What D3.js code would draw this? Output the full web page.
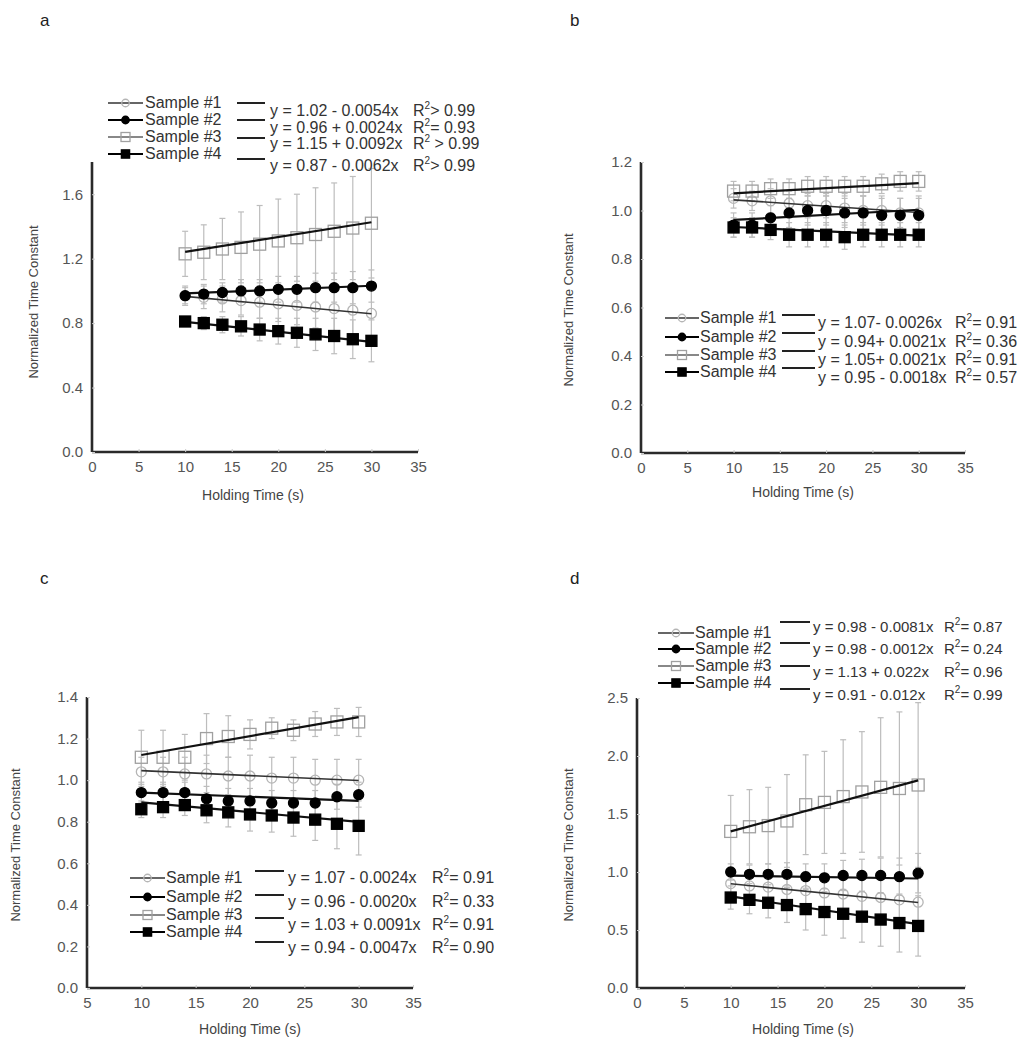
<!DOCTYPE html>
<html><head><meta charset="utf-8">
<script src="https://cdn.jsdelivr.net/npm/d3@7"></script>
<style>body{margin:0;background:#fff} text{font-family:"Liberation Sans",Arial,sans-serif}</style>
</head><body><svg id="c" width="1034" height="1050"></svg>
<script>
const holdingTime = [10,12,14,16,18,20,22,24,26,28,30];
const sampleNames = ["Sample #1","Sample #2","Sample #3","Sample #4"];

// Panel a
const aMean1 = [0.97,0.96,0.95,0.94,0.93,0.92,0.91,0.90,0.89,0.88,0.86];
const aSd1   = [0.06,0.07,0.08,0.09,0.10,0.11,0.12,0.13,0.14,0.15,0.16];
const aMean2 = [0.97,0.98,0.99,1.00,1.00,1.01,1.01,1.02,1.02,1.02,1.03];
const aSd2   = [0.05,0.06,0.06,0.07,0.07,0.08,0.08,0.09,0.09,0.10,0.10];
const aMean3 = [1.23,1.24,1.26,1.27,1.29,1.31,1.33,1.35,1.37,1.39,1.42];
const aSd3   = [0.14,0.17,0.19,0.22,0.24,0.26,0.27,0.29,0.30,0.32,0.34];
const aMean4 = [0.81,0.80,0.79,0.78,0.76,0.75,0.74,0.73,0.72,0.70,0.69];
const aSd4   = [0.03,0.04,0.05,0.06,0.07,0.08,0.09,0.10,0.11,0.12,0.13];
const aFitIntercept = [1.02,0.96,1.15,0.87];
const aFitSlope = [-0.0054,0.0024,0.0092,-0.0062];
const aEquation = ["y = 1.02 - 0.0054x","y = 0.96 + 0.0024x","y = 1.15 + 0.0092x","y = 0.87 - 0.0062x"];
const aR2 = ["> 0.99","= 0.93"," > 0.99","> 0.99"];
const aXTicks = [0,5,10,15,20,25,30,35];
const aYTicks = [0,0.4,0.8,1.2,1.6];

// Panel b
const bMean1 = [1.05,1.04,1.04,1.03,1.02,1.02,1.01,1.00,1.00,0.99,0.99];
const bSd1   = [0.04,0.04,0.05,0.05,0.05,0.05,0.06,0.06,0.06,0.06,0.07];
const bMean2 = [0.94,0.94,0.97,0.99,1.00,1.00,0.99,0.99,0.98,0.98,0.98];
const bSd2   = [0.05,0.05,0.05,0.06,0.06,0.06,0.06,0.07,0.07,0.07,0.07];
const bMean3 = [1.08,1.08,1.09,1.09,1.10,1.10,1.10,1.10,1.11,1.12,1.12];
const bSd3   = [0.04,0.04,0.04,0.04,0.04,0.04,0.04,0.04,0.04,0.04,0.04];
const bMean4 = [0.93,0.93,0.92,0.90,0.90,0.90,0.89,0.90,0.90,0.90,0.90];
const bSd4   = [0.04,0.04,0.04,0.05,0.05,0.05,0.05,0.05,0.05,0.05,0.05];
const bFitIntercept = [1.07,0.94,1.05,0.95];
const bFitSlope = [-0.0026,0.0021,0.0021,-0.0018];
const bEquation = ["y = 1.07- 0.0026x","y = 0.94+ 0.0021x","y = 1.05+ 0.0021x","y = 0.95 - 0.0018x"];
const bR2 = ["= 0.91","= 0.36","= 0.91","= 0.57"];
const bXTicks = [0,5,10,15,20,25,30,35];
const bYTicks = [0,0.2,0.4,0.6,0.8,1.0,1.2];

// Panel c
const cMean1 = [1.04,1.04,1.03,1.03,1.02,1.02,1.01,1.01,1.00,1.00,1.00];
const cSd1   = [0.07,0.07,0.08,0.09,0.09,0.10,0.10,0.10,0.10,0.10,0.10];
const cMean2 = [0.94,0.94,0.94,0.91,0.90,0.90,0.89,0.89,0.89,0.92,0.93];
const cSd2   = [0.05,0.05,0.05,0.06,0.06,0.06,0.06,0.06,0.06,0.06,0.06];
const cMean3 = [1.11,1.11,1.11,1.20,1.21,1.22,1.25,1.24,1.27,1.28,1.28];
const cSd3   = [0.13,0.13,0.11,0.12,0.10,0.07,0.05,0.05,0.06,0.065,0.07];
const cMean4 = [0.86,0.87,0.88,0.855,0.845,0.835,0.83,0.82,0.81,0.79,0.78];
const cSd4   = [0.04,0.05,0.05,0.06,0.07,0.08,0.08,0.09,0.10,0.12,0.14];
const cFitIntercept = [1.07,0.96,1.03,0.94];
const cFitSlope = [-0.0024,-0.0020,0.0091,-0.0047];
const cEquation = ["y = 1.07 - 0.0024x","y = 0.96 - 0.0020x","y = 1.03 + 0.0091x","y = 0.94 - 0.0047x"];
const cR2 = ["= 0.91","= 0.33","= 0.91","= 0.90"];
const cXTicks = [5,10,15,20,25,30,35];
const cYTicks = [0,0.2,0.4,0.6,0.8,1.0,1.2,1.4];

// Panel d
const dMean1 = [0.90,0.88,0.87,0.85,0.84,0.82,0.81,0.79,0.78,0.76,0.74];
const dSd1   = [0.12,0.13,0.14,0.15,0.16,0.17,0.18,0.19,0.20,0.21,0.22];
const dMean2 = [1.00,0.98,0.98,0.98,0.96,0.95,0.97,0.97,0.97,0.96,0.99];
const dSd2   = [0.07,0.08,0.09,0.10,0.11,0.12,0.13,0.14,0.15,0.16,0.17];
const dMean3 = [1.35,1.39,1.40,1.44,1.58,1.60,1.65,1.69,1.73,1.72,1.75];
const dSd3   = [0.31,0.32,0.33,0.40,0.43,0.44,0.49,0.52,0.60,0.66,0.71];
const dMean4 = [0.78,0.76,0.735,0.715,0.68,0.655,0.64,0.615,0.59,0.56,0.535];
const dSd4   = [0.10,0.12,0.13,0.15,0.18,0.20,0.21,0.22,0.23,0.25,0.26];
const dFitIntercept = [0.98,0.98,1.13,0.91];
const dFitSlope = [-0.0081,-0.0012,0.022,-0.012];
const dEquation = ["y = 0.98 - 0.0081x","y = 0.98 - 0.0012x","y = 1.13 + 0.022x","y = 0.91 - 0.012x"];
const dR2 = ["= 0.87","= 0.24","= 0.96","= 0.99"];
const dXTicks = [0,5,10,15,20,25,30,35];
const dYTicks = [0,0.5,1.0,1.5,2.0,2.5];

const xTitle = "Holding Time (s)";
const yTitle = "Normalized Time Constant";

// layout
const panels = [
  {label:"a", lx:40, ly:26, means:[aMean1,aMean2,aMean3,aMean4], sds:[aSd1,aSd2,aSd3,aSd4],
   b0:aFitIntercept, b1:aFitSlope, eq:aEquation, r2:aR2, xt:aXTicks, yt:aYTicks, yfmt:".1f",
   left:92, width:326, top:162, bottom:452, xd:[0,35], yd:[0,1.8],
   ytx:38, yty:302, xtx:253, xty:500, efs:16,
   leg:{m0:108,m1:143,tx:145,rows:[103,120,137,154],s0:237,s1:265,segs:[103,120,138,159],ex:270,eys:[111,128,144,166],rx:413}},
  {label:"b", lx:570, ly:26, means:[bMean1,bMean2,bMean3,bMean4], sds:[bSd1,bSd2,bSd3,bSd4],
   b0:bFitIntercept, b1:bFitSlope, eq:bEquation, r2:bR2, xt:bXTicks, yt:bYTicks, yfmt:".1f",
   left:641, width:324, top:162, bottom:453, xd:[0,35], yd:[0,1.2],
   ytx:573, yty:310, xtx:803, xty:497, efs:16,
   leg:{m0:665,m1:699,tx:700,rows:[318,337,355,372],s0:782,s1:815,segs:[315,333,351,368],ex:818,eys:[323,342,360,378],rx:955}},
  {label:"c", lx:40, ly:584, means:[cMean1,cMean2,cMean3,cMean4], sds:[cSd1,cSd2,cSd3,cSd4],
   b0:cFitIntercept, b1:cFitSlope, eq:cEquation, r2:cR2, xt:cXTicks, yt:cYTicks, yfmt:".1f",
   left:87, width:326, top:697, bottom:988, xd:[5,35], yd:[0,1.4],
   ytx:20, yty:845, xtx:250, xty:1034, efs:16,
   leg:{m0:130,m1:165,tx:166,rows:[878,897,915,932],s0:255,s1:284,segs:[871,895,918,942],ex:288,eys:[878,902,925,948],rx:432}},
  {label:"d", lx:570, ly:584, means:[dMean1,dMean2,dMean3,dMean4], sds:[dSd1,dSd2,dSd3,dSd4],
   b0:dFitIntercept, b1:dFitSlope, eq:dEquation, r2:dR2, xt:dXTicks, yt:dYTicks, yfmt:".1f",
   left:637, width:328, top:698, bottom:988, xd:[0,35], yd:[0,2.5],
   ytx:573, yty:845, xtx:803, xty:1034, efs:15,
   leg:{m0:658,m1:694,tx:695,rows:[633,649,666,683],s0:780,s1:810,segs:[622,643,666,689],ex:813,eys:[627,649,672,695],rx:944}}
];

const markerStyle = [
  {shape:"circle", fill:"none", stroke:"#b5b5b5", lineColor:"#666", size:5},
  {shape:"circle", fill:"#000", stroke:"#000", lineColor:"#000", size:5},
  {shape:"square", fill:"none", stroke:"#a0a0a0", lineColor:"#888", size:6},
  {shape:"square", fill:"#000", stroke:"#000", lineColor:"#000", size:5.5}
];

const svg = d3.select("#c");
const FS = 15;

function drawMarker(g, st, cx, cy, scale=1){
  const s = st.size*scale;
  if(st.shape==="circle"){
    g.append("circle").attr("cx",cx).attr("cy",cy).attr("r",s)
      .attr("fill",st.fill).attr("stroke",st.stroke).attr("stroke-width",1.3);
  } else {
    g.append("rect").attr("x",cx-s).attr("y",cy-s).attr("width",2*s).attr("height",2*s)
      .attr("fill",st.fill).attr("stroke",st.stroke).attr("stroke-width",1.3);
  }
}

panels.forEach(p=>{
  const x = d3.scaleLinear().domain(p.xd).range([p.left,p.left+p.width]);
  const y = d3.scaleLinear().domain(p.yd).range([p.bottom,p.top]);
  const g = svg.append("g");

  g.append("text").attr("x",p.lx).attr("y",p.ly).attr("font-size",17).attr("fill","#222").text(p.label);

  const xAxis = d3.axisBottom(x).tickValues(p.xt).tickSize(-3).tickPadding(9).tickFormat(d3.format("d"));
  const ya = d3.axisLeft(y).tickValues(p.yt).tickSize(-3).tickPadding(9).tickFormat(d3.format(p.yfmt));
  const gx = g.append("g").attr("transform",`translate(0,${p.bottom})`).call(xAxis);
  const gy = g.append("g").attr("transform",`translate(${p.left},0)`).call(ya);
  [gx,gy].forEach(a=>{
    a.select(".domain").attr("stroke","#2a2a2a").attr("stroke-width",2.6);
    a.selectAll(".tick line").attr("stroke","#ccc");
    a.selectAll(".tick text").attr("font-size",FS).attr("fill","#555").attr("font-family","Liberation Sans, Arial, sans-serif");
  });
  gx.select(".domain").attr("d",`M${p.left},0H${p.left+p.width}`);
  gy.select(".domain").attr("d",`M0,${p.bottom}V${p.top}`);

  g.append("text").attr("x",p.xtx).attr("y",p.xty).attr("text-anchor","middle")
    .attr("font-size",14).attr("fill","#444").text(xTitle);
  g.append("text").attr("transform",`translate(${p.ytx},${p.yty}) rotate(-90)`).attr("text-anchor","middle")
    .attr("font-size",13).attr("fill","#444").text(yTitle);

  p.means.forEach((m,si)=>{
    const sd = p.sds[si];
    holdingTime.forEach((t,i)=>{
      const cx = x(t), y1 = y(m[i]+sd[i]), y2 = y(m[i]-sd[i]);
      g.append("line").attr("x1",cx).attr("x2",cx).attr("y1",y1).attr("y2",y2).attr("stroke","#bdbdbd").attr("stroke-width",1.2);
      [y1,y2].forEach(yy=>g.append("line").attr("x1",cx-3).attr("x2",cx+3).attr("y1",yy).attr("y2",yy).attr("stroke","#bdbdbd").attr("stroke-width",1.2));
    });
  });
  [0,2].forEach(si=>{
    holdingTime.forEach((t,i)=>drawMarker(g, markerStyle[si], x(t), y(p.means[si][i])));
  });
  p.b0.forEach((b0,si)=>{
    const b1 = p.b1[si];
    g.append("line").attr("x1",x(10)).attr("x2",x(30)).attr("y1",y(b0+b1*10)).attr("y2",y(b0+b1*30))
      .attr("stroke", si===0 ? "#333" : "#111").attr("stroke-width", si===0 ? 1.6 : 2.2);
  });
  [1,3].forEach(si=>{
    holdingTime.forEach((t,i)=>drawMarker(g, markerStyle[si], x(t), y(p.means[si][i])));
  });

  const L = p.leg;
  sampleNames.forEach((name,si)=>{
    const st = markerStyle[si];
    const ry = L.rows[si];
    g.append("line").attr("x1",L.m0).attr("x2",L.m1).attr("y1",ry).attr("y2",ry).attr("stroke",st.lineColor).attr("stroke-width",2);
    drawMarker(g, st, (L.m0+L.m1)/2, ry, 0.75);
    g.append("text").attr("x",L.tx).attr("y",ry+5).attr("font-size",FS+1).attr("fill","#333").text(name);
    g.append("line").attr("x1",L.s0).attr("x2",L.s1).attr("y1",L.segs[si]).attr("y2",L.segs[si]).attr("stroke","#222").attr("stroke-width",2);
    g.append("text").attr("x",L.ex).attr("y",L.eys[si]+5).attr("font-size",p.efs).attr("fill","#333").text(p.eq[si]);
    const rt = g.append("text").attr("x",L.rx).attr("y",L.eys[si]+5).attr("font-size",p.efs).attr("fill","#333");
    rt.append("tspan").text("R");
    rt.append("tspan").attr("dy",-7).attr("font-size",10).text("2");
    rt.append("tspan").attr("dy",7).text(p.r2[si]);
  });
});
</script></body></html>
